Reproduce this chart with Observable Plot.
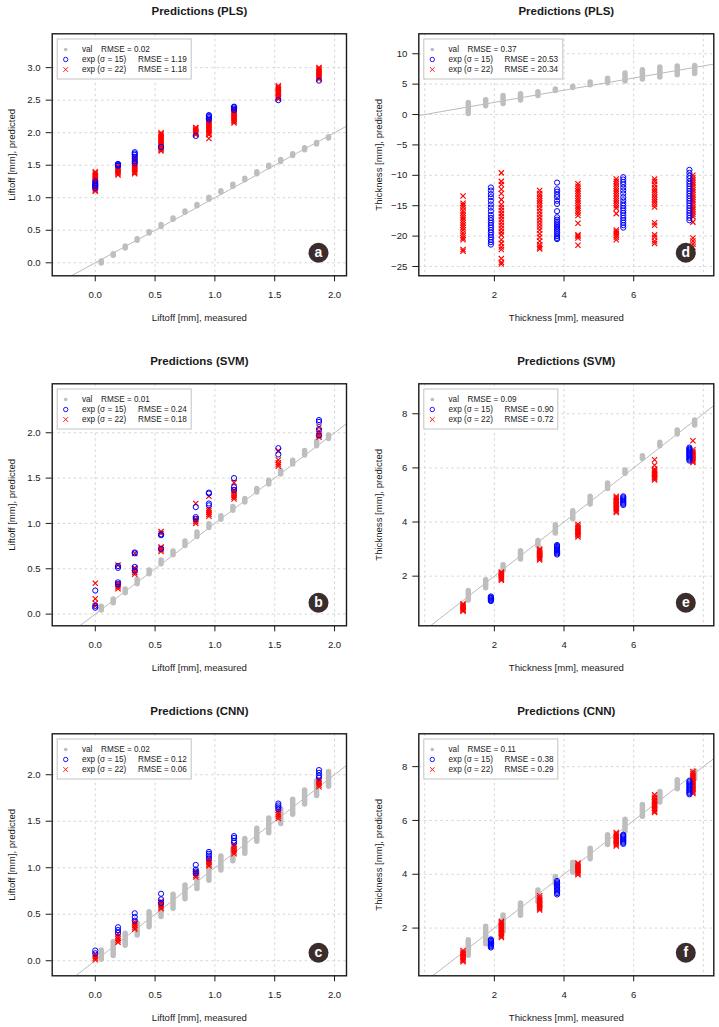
<!DOCTYPE html>
<html><head><meta charset="utf-8">
<script src="https://cdn.jsdelivr.net/npm/d3@7"></script>
<script src="https://cdn.jsdelivr.net/npm/@observablehq/plot@0.6"></script>
<style>
body{margin:0;background:#fff;}
#wrap{position:relative;width:719px;height:1027px;overflow:hidden;background:#fff;}
.panel{position:absolute;}
</style></head><body><div id="wrap"></div>
<script>
// ---------- categories / ticks ----------
const titles = ["Predictions (PLS)", "Predictions (SVM)", "Predictions (CNN)"];
const legendLabels = ["val", "exp (σ = 15)", "exp (σ = 22)"];
const liftXLabel = "Liftoff [mm], measured", liftYLabel = "Liftoff [mm], predicted";
const thickXLabel = "Thickness [mm], measured", thickYLabel = "Thickness [mm], predicted";

const liftXTicks = [0, 0.5, 1, 1.5, 2];
const liftYTicksA = [0, 0.5, 1, 1.5, 2, 2.5, 3];
const liftYTicksBC = [0, 0.5, 1, 1.5, 2];
const thickXTicks = [2, 4, 6];
const thickXGrid = [0, 2, 4, 6, 8];
const thickYTicksD = [-25, -20, -15, -10, -5, 0, 5, 10];
const thickYTicksEF = [2, 4, 6, 8];

// measured positions
const liftValX = [0.05,0.15,0.25,0.35,0.45,0.55,0.65,0.75,0.85,0.95,1.05,1.15,1.25,1.35,1.45,1.55,1.65,1.75,1.85,1.95];
const liftExpX = [0, 0.19, 0.33, 0.55, 0.84, 0.95, 1.16, 1.53, 1.87];
const thickValX = [1.25,1.75,2.25,2.75,3.25,3.75,4.25,4.75,5.25,5.75,6.25,6.75,7.25,7.75];
const thick15X = [1.9, 3.8, 5.7, 7.6];
const thick22X = [1.1, 2.2, 3.3, 4.4, 5.5, 6.6, 7.7];

// ---------- RMSE values ----------
const rmsePlsLift = ["0.02", "1.19", "1.18"];
const rmseSvmLift = ["0.01", "0.24", "0.18"];
const rmseCnnLift = ["0.02", "0.12", "0.06"];
const rmsePlsThick = ["0.37", "20.53", "20.34"];
const rmseSvmThick = ["0.09", "0.90", "0.72"];
const rmseCnnThick = ["0.11", "0.38", "0.29"];

// ---------- (a) PLS liftoff ----------
const plsLiftVal = [[-0.01,0.02],[0.11,0.13],[0.22,0.25],[0.34,0.36],[0.45,0.47],[0.55,0.58],[0.66,0.68],[0.77,0.79],[0.87,0.89],[0.97,1.0],[1.08,1.1],[1.17,1.2],[1.27,1.29],[1.36,1.39],[1.47,1.49],[1.55,1.58],[1.64,1.67],[1.73,1.76],[1.82,1.84],[1.91,1.93]];
const plsLift15 = [
  [1.15,1.18,1.2,1.22,1.25],
  [1.49,1.5,1.51,1.52],
  [1.53,1.56,1.6,1.63,1.66,1.68,1.7],
  [1.78],
  [1.95],
  [2.2,2.22,2.24,2.26,2.27],
  [2.35,2.37,2.39,2.4],
  [2.5],
  [2.8]];
const plsLift22 = [
  [1.1,1.12,1.14,1.16,1.18,1.2,1.22,1.24,1.26,1.28,1.3,1.32,1.34,1.36,1.38,1.4],
  [1.35,1.37,1.39,1.41,1.43,1.45,1.47,1.5],
  [1.37,1.39,1.41,1.43,1.45,1.47,1.49,1.51,1.53,1.56,1.6,1.63],
  [1.72,1.74,1.76,1.78,1.8,1.82,1.84,1.86,1.88,1.9,1.92,1.94,1.96,1.98,2.0],
  [1.97,1.99,2.01,2.03,2.05,2.07,2.08],
  [1.91,1.97,1.99,2.01,2.03,2.05,2.07,2.09,2.11,2.13,2.15,2.17,2.19,2.22],
  [2.15,2.17,2.19,2.21,2.23,2.25,2.27,2.29,2.31,2.33,2.35,2.37],
  [2.52,2.54,2.56,2.58,2.6,2.62,2.64,2.66,2.68,2.7,2.72],
  [2.82,2.84,2.86,2.88,2.9,2.92,2.94,2.96,2.98,3.0]];

// ---------- (b) SVM liftoff ----------
const svmLiftVal = [[0.04,0.08],[0.12,0.16],[0.23,0.27],[0.33,0.38],[0.44,0.48],[0.55,0.59],[0.65,0.69],[0.75,0.8],[0.85,0.9],[0.95,0.99],[1.04,1.08],[1.14,1.18],[1.23,1.27],[1.34,1.38],[1.43,1.47],[1.54,1.58],[1.65,1.69],[1.75,1.8],[1.85,1.9],[1.93,1.97]];
const svmLift15 = [
  [0.07,0.09,0.26],
  [0.33,0.35,0.51,0.53],
  [0.48,0.52,0.67,0.68],
  [0.72,0.87,0.88],
  [1.05,1.07,1.18],
  [1.2,1.22,1.33,1.34],
  [1.37,1.4,1.5],
  [1.76,1.83],
  [1.97,2.04,2.12,2.14]];
const svmLift22 = [
  [0.09,0.12,0.17,0.34],
  [0.28,0.3,0.32,0.34,0.54],
  [0.44,0.46,0.48,0.5,0.51,0.67],
  [0.69,0.71,0.73,0.74,0.89,0.91],
  [1.0,1.02,1.04,1.05,1.22],
  [1.08,1.1,1.12,1.14,1.16,1.3],
  [1.27,1.29,1.31,1.33,1.35,1.37,1.45],
  [1.63,1.65,1.67,1.7,1.8],
  [1.95,1.97,1.99,2.02,2.06]];

// ---------- (c) CNN liftoff ----------
const cnnLiftVal = [[0.01,0.11],[0.05,0.2],[0.16,0.29],[0.27,0.4],[0.36,0.52],[0.47,0.63],[0.56,0.71],[0.66,0.81],[0.77,0.95],[0.86,1.06],[0.97,1.12],[1.07,1.2],[1.15,1.31],[1.28,1.42],[1.37,1.53],[1.47,1.63],[1.57,1.73],[1.68,1.83],[1.77,1.93],[1.87,2.03]];
const cnnLift15 = [
  [0.08,0.11],
  [0.3,0.33,0.36],
  [0.43,0.47,0.51],
  [0.62,0.66,0.72],
  [0.94,0.96,0.98,1.03],
  [1.1,1.13,1.15,1.17],
  [1.27,1.29,1.32,1.34],
  [1.63,1.65,1.67,1.69],
  [1.97,1.99,2.02,2.05]];
const cnnLift22 = [
  [0.01,0.03,0.05,0.07],
  [0.2,0.22,0.24,0.26,0.29],
  [0.34,0.36,0.38,0.4,0.42],
  [0.56,0.58,0.6,0.62,0.64],
  [0.9,0.92,0.94,0.96],
  [1.02,1.04,1.06,1.08,1.1],
  [1.15,1.17,1.19,1.21,1.23,1.25],
  [1.53,1.55,1.57,1.59,1.62],
  [1.87,1.89,1.91,1.93,1.95]];

// ---------- (d) PLS thickness ----------
const plsThickVal = [[0.1,1.9],[1.35,2.35],[1.75,3.05],[2.3,3.35],[3.05,3.65],[3.85,4.1],[4.35,4.55],[4.8,5.25],[5.15,5.9],[5.45,6.75],[5.75,7.3],[6.1,7.75],[6.45,7.9],[6.65,8.0]];
const plsThick15 = [
  [-12.0,-12.5,-13.1,-13.6,-14.2,-14.8,-15.3,-15.9,-16.5,-17.0,-17.4,-17.8,-18.2,-18.6,-19.0,-19.4,-19.8,-20.2,-20.6,-21.0,-21.4],
  [-11.2,-12.3,-12.7,-13.2,-13.6,-14.2,-14.7,-15.9,-16.9,-17.3,-17.6,-17.9,-18.2,-18.5,-18.8,-19.1,-19.4,-19.7,-20.0,-20.3,-20.5],
  [-10.3,-10.7,-11.1,-11.5,-12.0,-12.5,-13.0,-13.6,-14.1,-14.6,-15.0,-15.4,-15.8,-16.2,-16.6,-17.0,-17.4,-17.8,-18.2,-18.6],
  [-9.1,-9.6,-10.1,-10.5,-11.0,-11.4,-11.8,-12.2,-12.6,-13.0,-13.4,-13.8,-14.2,-14.6,-15.0,-15.4,-15.8,-16.2,-16.6,-17.0,-17.4]];
const plsThick22 = [
  [-13.4,-14.6,-14.9,-15.3,-15.8,-16.2,-16.6,-17.0,-17.4,-17.8,-18.2,-18.6,-19.0,-19.5,-19.9,-20.3,-20.6,-22.2,-22.5],
  [-9.6,-11.0,-11.5,-12.3,-13.0,-14.0,-14.8,-15.3,-15.8,-16.3,-16.8,-17.3,-17.8,-18.3,-18.8,-19.3,-19.8,-20.6,-21.2,-21.8,-22.2,-23.7,-24.3,-24.6],
  [-12.5,-13.0,-13.4,-13.8,-14.2,-14.6,-15.0,-15.5,-16.0,-16.5,-17.0,-17.5,-18.0,-18.5,-19.0,-19.6,-20.2,-20.8,-21.4,-21.8,-22.1],
  [-11.4,-11.8,-12.2,-12.6,-13.0,-13.4,-13.8,-14.2,-14.6,-15.0,-15.4,-15.8,-16.2,-16.6,-17.9,-19.8,-20.0,-20.3,-21.5],
  [-10.6,-11.0,-11.4,-11.8,-12.2,-12.6,-13.0,-13.4,-13.8,-14.2,-14.6,-15.0,-15.4,-16.3,-19.0,-19.3,-19.6,-19.9,-20.2,-20.6],
  [-10.6,-11.0,-11.5,-12.0,-12.4,-12.8,-13.2,-13.6,-14.0,-14.4,-14.8,-15.2,-17.8,-18.2,-19.8,-20.2,-20.8,-21.2],
  [-10.0,-10.4,-10.8,-11.2,-11.6,-12.0,-12.4,-12.8,-13.2,-13.6,-14.0,-14.4,-14.8,-15.2,-15.6,-16.0,-16.4,-16.8,-17.7,-20.3,-20.8,-21.3,-21.8]];

// ---------- (e) SVM thickness ----------
const svmThickVal = [[1.1,1.45],[1.55,1.85],[2.2,2.4],[2.62,2.92],[3.1,3.3],[3.58,3.88],[4.1,4.4],[4.65,4.93],[5.22,5.42],[5.78,5.9],[6.33,6.43],[6.8,6.93],[7.23,7.38],[7.57,7.75]];
const svmThick15 = [
  [1.08,1.11,1.14,1.17,1.2,1.22,1.25],
  [2.8,2.84,2.88,2.92,2.96,3.0,3.04,3.08,3.12,3.15],
  [4.63,4.67,4.71,4.75,4.79,4.83,4.87,4.91,4.95],
  [6.27,6.31,6.35,6.39,6.43,6.47,6.51,6.55,6.59,6.63,6.67,6.71,6.75]];
const svmThick22 = [
  [0.7,0.74,0.78,0.82,0.86,0.9,0.94,0.98],
  [1.85,1.89,1.93,1.97,2.01,2.05,2.09,2.12,2.15],
  [2.6,2.64,2.68,2.72,2.76,2.8,2.84,2.88,2.92,2.96,3.0],
  [3.45,3.5,3.55,3.6,3.65,3.7,3.75,3.8,3.85,3.92],
  [4.35,4.4,4.45,4.5,4.55,4.6,4.65,4.7,4.75,4.8,4.85,4.9,4.95],
  [5.55,5.6,5.65,5.7,5.75,5.8,5.85,5.9,5.96,6.1,6.3],
  [6.2,6.25,6.3,6.35,6.4,6.45,6.5,6.55,6.6,6.67,7.0]];

// ---------- (f) CNN thickness ----------
const cnnThickVal = [[0.97,1.55],[1.4,2.05],[1.85,2.47],[2.46,2.91],[2.96,3.4],[3.64,3.9],[4.06,4.43],[4.56,4.95],[5.09,5.45],[5.57,6.03],[6.14,6.57],[6.67,7.06],[7.16,7.49],[7.53,7.83]];
const cnnThick15 = [
  [1.28,1.32,1.36,1.4,1.44,1.48,1.52,1.55,1.58],
  [3.25,3.3,3.35,3.4,3.45,3.5,3.55,3.6,3.65,3.7,3.75],
  [5.13,5.17,5.21,5.25,5.29,5.33,5.37,5.41,5.44,5.47],
  [6.97,7.02,7.07,7.12,7.17,7.22,7.27,7.32,7.37,7.42,7.47]];
const cnnThick22 = [
  [0.75,0.8,0.85,0.9,0.95,1.0,1.05,1.1,1.17],
  [1.65,1.7,1.75,1.8,1.85,1.9,1.95,2.0,2.05,2.1,2.15,2.2,2.25],
  [2.67,2.72,2.77,2.82,2.87,2.92,2.97,3.02,3.07,3.13,3.2],
  [3.98,4.03,4.08,4.13,4.18,4.23,4.28,4.33,4.38,4.42],
  [5.05,5.1,5.15,5.2,5.25,5.3,5.35,5.4,5.45,5.5,5.55],
  [6.3,6.35,6.4,6.45,6.5,6.55,6.6,6.65,6.7,6.75,6.8,6.86,6.95],
  [7.0,7.05,7.1,7.15,7.2,7.25,7.3,7.35,7.4,7.45,7.5,7.56,7.62,7.68,7.75,7.82]];

// ---------- helpers ----------
const FONT = "'Liberation Sans', Arial, Helvetica, sans-serif";
function flatten(xs, groups) { const out = []; groups.forEach((vals, i) => vals.forEach(v => out.push({x: xs[i], y: v}))); return out; }
function valRows(xs, ranges) { return ranges.map((r, i) => ({x: xs[i], lo: r[0], hi: r[1]})); }

function legendMark(rmse, boxW) {
  return (index, scales, values, dims) => {
    const bx = dims.marginLeft + 5.5, by = dims.marginTop + 5.7;
    const g = d3.create("svg:g").attr("font-size", 8.2).attr("fill", "#222").attr("font-family", FONT).attr("text-anchor", "start");
    g.append("rect").attr("x", bx).attr("y", by).attr("width", boxW).attr("height", 40)
      .attr("fill", "white").attr("stroke", "#c4c4c4").attr("stroke-width", 1);
    const rowsY = [10.5, 20.5, 30.5];
    g.append("circle").attr("cx", bx + 8.5).attr("cy", by + rowsY[0]).attr("r", 1.8).attr("fill", "#bebebe");
    g.append("circle").attr("cx", bx + 8.5).attr("cy", by + rowsY[1]).attr("r", 2.2).attr("fill", "none").attr("stroke", "blue").attr("stroke-width", 0.9);
    g.append("path").attr("transform", `translate(${bx + 8.5},${by + rowsY[2]})`)
      .attr("d", d3.symbol(d3.symbolTimes, 16)()).attr("fill", "none").attr("stroke", "red").attr("stroke-width", 0.9);
    legendLabels.forEach((t, i) => g.append("text").attr("text-anchor", "start").attr("x", bx + 24.7).attr("y", by + rowsY[i]).attr("dy", "0.35em").text(t));
    rmse.forEach((v, i) => g.append("text").attr("text-anchor", "start").attr("x", bx + (i === 0 ? 43.8 : 80.8)).attr("y", by + rowsY[i]).attr("dy", "0.35em").text("RMSE = " + v));
    return g.node();
  };
}

const panels = [
  {id: "a", row: 0, col: 0, title: titles[0], val: plsLiftVal, e15: plsLift15, e22: plsLift22, rmse: rmsePlsLift, ydom: [-0.2, 3.52], yticks: liftYTicksA, lw: 134},
  {id: "b", row: 1, col: 0, title: titles[1], val: svmLiftVal, e15: svmLift15, e22: svmLift22, rmse: rmseSvmLift, ydom: [-0.129, 2.54], yticks: liftYTicksBC, lw: 134},
  {id: "c", row: 2, col: 0, title: titles[2], val: cnnLiftVal, e15: cnnLift15, e22: cnnLift22, rmse: rmseCnnLift, ydom: [-0.162, 2.44], yticks: liftYTicksBC, lw: 134},
  {id: "d", row: 0, col: 1, title: titles[0], val: plsThickVal, e15: plsThick15, e22: plsThick22, rmse: rmsePlsThick, ydom: [-26.53, 13.28], yticks: thickYTicksD, lw: 139},
  {id: "e", row: 1, col: 1, title: titles[1], val: svmThickVal, e15: svmThick15, e22: svmThick22, rmse: rmseSvmThick, ydom: [0.166, 9.107], yticks: thickYTicksEF, lw: 134},
  {id: "f", row: 2, col: 1, title: titles[2], val: cnnThickVal, e15: cnnThick15, e22: cnnThick22, rmse: rmseCnnThick, ydom: [0.227, 9.22], yticks: thickYTicksEF, lw: 134}
];

const wrap = document.getElementById("wrap");
const gridStyle = {stroke: "#cccccc", strokeOpacity: 1, strokeDasharray: "2.5,3", strokeWidth: 0.8};

for (const p of panels) {
  const left = p.col === 0;
  const xdom = left ? [-0.36, 2.10] : [-0.17, 8.30];
  const xTicks = left ? liftXTicks : thickXTicks;
  const xGrid = left ? liftXTicks : thickXGrid;
  const fmt = left ? d3.format(".1f") : d3.format("d");
  const valX = left ? liftValX : thickValX;
  const x15 = left ? liftExpX : thick15X;
  const x22 = left ? liftExpX : thick22X;
  const chart = Plot.plot({
    width: left ? 360 : 359,
    height: 327.3,
    marginTop: 33.3, marginBottom: 52,
    marginLeft: left ? 51.7 : 58.3, marginRight: left ? 14 : 5.7,
    style: {fontFamily: FONT, fontSize: "9.6px", color: "#1a1a1a", background: "transparent"},
    x: {domain: xdom},
    y: {domain: p.ydom},
    marks: [
      Plot.gridX(xGrid, gridStyle),
      Plot.gridY(p.yticks, gridStyle),
      Plot.link([xdom], {x1: d => d[0], y1: d => d[0], x2: d => d[1], y2: d => d[1], stroke: "#a8a8a8", strokeWidth: 0.8, clip: true}),
      Plot.ruleX(valRows(valX, p.val), {x: "x", y1: "lo", y2: "hi", stroke: "#bebebe", strokeWidth: 5.5, strokeLinecap: "round"}),
      Plot.dot(flatten(x22, p.e22), {x: "x", y: "y", symbol: "times", r: 2.5, stroke: "red", strokeWidth: 1.15}),
      Plot.dot(flatten(x15, p.e15), {x: "x", y: "y", r: 2.6, stroke: "blue", fill: "none", strokeWidth: 1}),
      Plot.frame({stroke: "#1a1a1a", strokeWidth: 1.4}),
      Plot.axisX(xTicks, {tickSize: 6, tickPadding: 9, tickFormat: fmt, label: null}),
      Plot.axisY(p.yticks, {tickSize: 6, tickPadding: 5.5, tickFormat: fmt, label: null}),
      legendMark(p.rmse, p.lw),
      Plot.dot([p.id], {frameAnchor: "bottom-right", dx: -28, dy: -23, r: 10, fill: "#3a2d2b"}),
      Plot.text([p.id], {frameAnchor: "bottom-right", dx: -28, dy: -23.5, text: d => d, textAnchor: "middle", lineAnchor: "middle", fill: "white", fontWeight: "bold", fontSize: 14}),
      Plot.text([p.title], {frameAnchor: "top", dy: -22, text: d => d, textAnchor: "middle", lineAnchor: "middle", fontWeight: "bold", fontSize: 11.5}),
      Plot.text([left ? liftXLabel : thickXLabel], {frameAnchor: "bottom", dy: 41.7, text: d => d, textAnchor: "middle", lineAnchor: "middle"}),
      Plot.text([left ? liftYLabel : thickYLabel], {frameAnchor: "left", dx: -40, rotate: -90, text: d => d, textAnchor: "middle", lineAnchor: "middle"})
    ]
  });
  const div = document.createElement("div");
  div.className = "panel";
  div.style.left = (left ? 0 : 360) + "px";
  div.style.top = (p.row * 350) + "px";
  div.appendChild(chart);
  wrap.appendChild(div);
}
</script></body></html>
